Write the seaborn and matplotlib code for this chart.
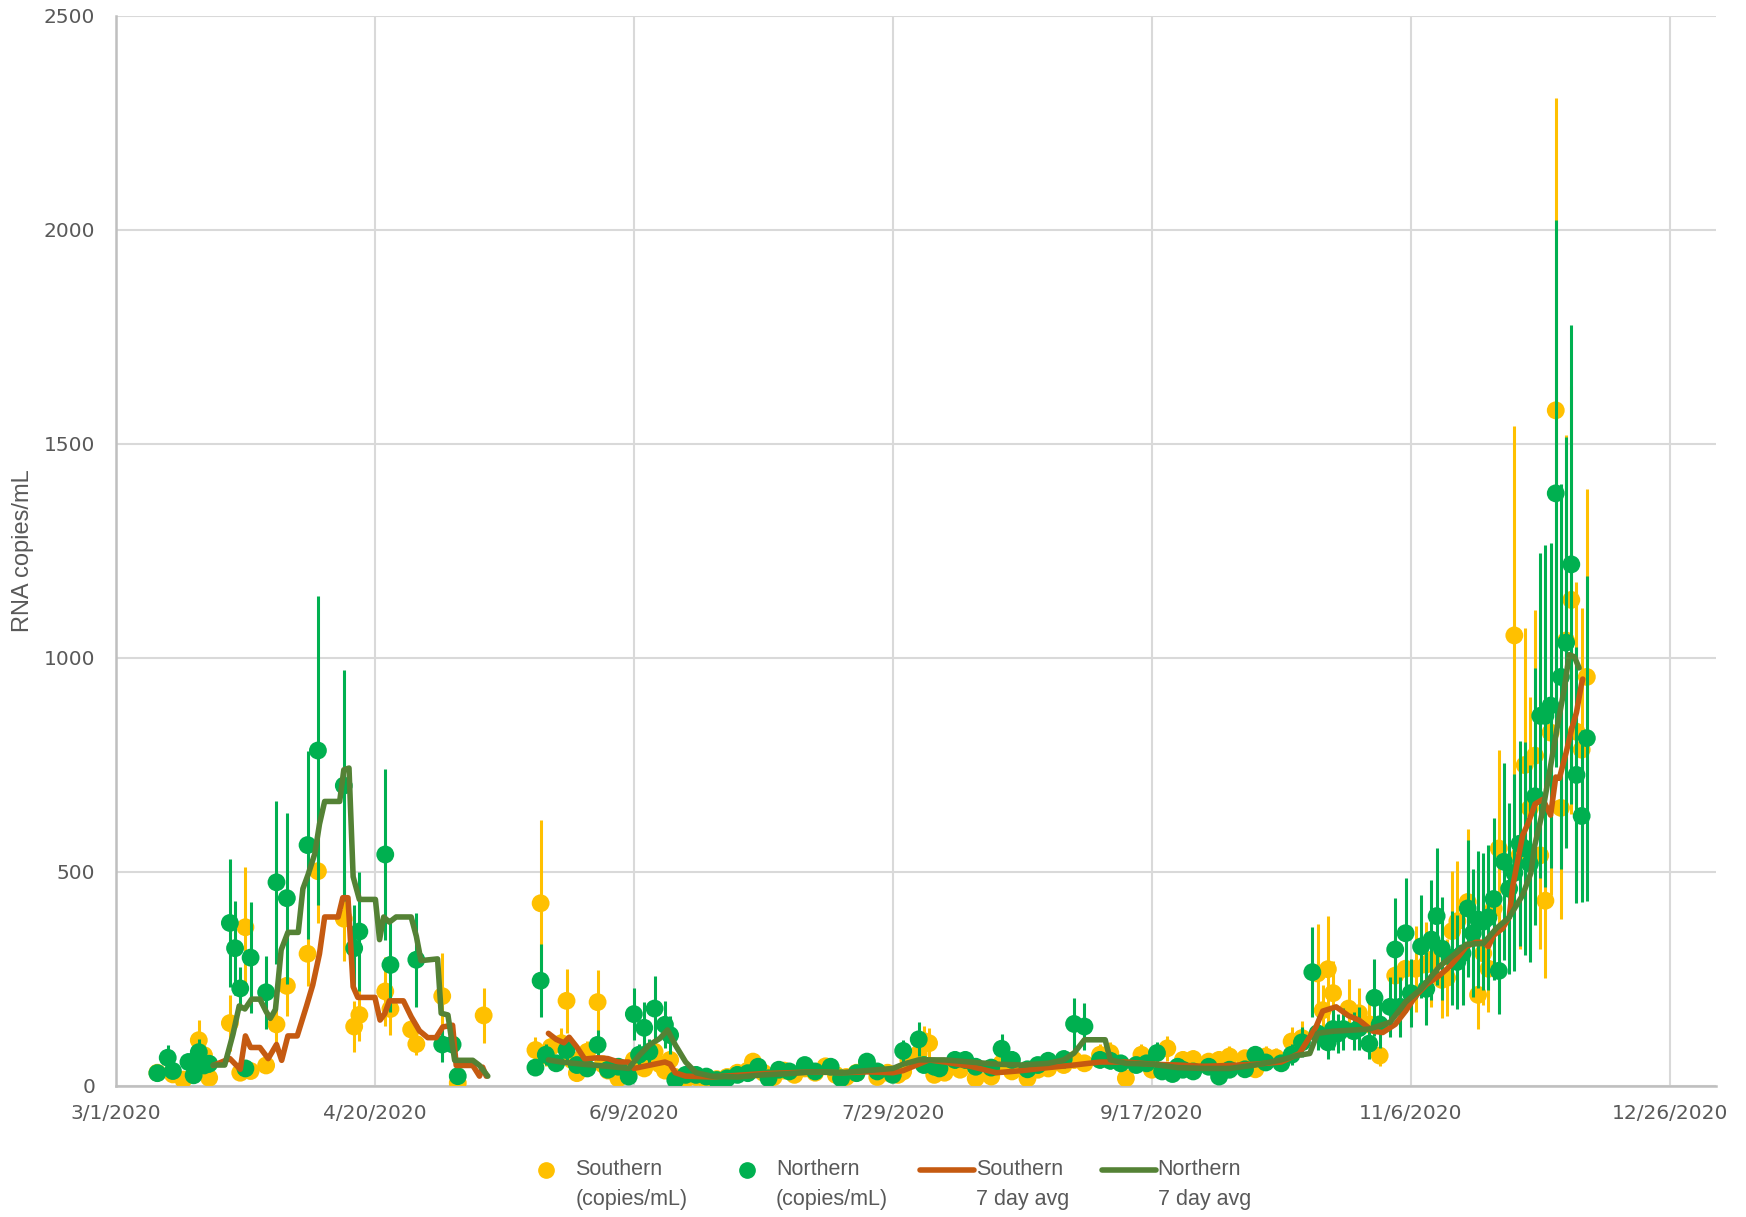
import numpy as np
import pandas as pd
import matplotlib
matplotlib.use('Agg')
import matplotlib.pyplot as plt
from matplotlib.lines import Line2D
from matplotlib.legend_handler import HandlerLine2D
from matplotlib.ticker import FuncFormatter, MultipleLocator
from matplotlib import font_manager
import matplotlib.dates as mdates
import seaborn as sns

sns.set_theme()
sns.set_style('white')
plt.rcParams['font.family'] = ['DejaVu Sans']

start = pd.Timestamp('2020-03-01')

# Southern samples: day offset from 3/1/2020, copies/mL, error bar half-width
s_days = [8, 11, 13, 16, 17, 18, 22, 24, 25, 26, 29, 31, 33, 37, 39, 44, 46, 47, 52, 53, 57, 58, 63, 66, 71,
          81, 82, 83, 84, 86, 87, 88, 89, 90, 91, 93, 94, 95, 97, 99, 100, 101, 102, 103, 104, 105, 106, 107,
          108, 110, 112, 114, 116, 118, 120, 122, 123, 125, 127, 129, 131, 133, 135, 137, 139, 141, 143, 145,
          147, 149, 151, 152, 153, 155, 156, 157, 158, 160,
          163, 166, 169, 171, 173, 176, 178, 180, 183, 185, 187, 190, 192, 195, 198, 200, 203, 206, 208, 211,
          213, 215, 218, 220, 222, 224, 227, 229, 232, 233, 234, 235, 238, 240, 242, 244, 247, 249, 251, 253,
          254, 256, 257, 258, 259, 261, 263, 264, 265, 266, 267, 270, 271, 272, 273, 274, 275, 276, 277, 278,
          279, 280, 281, 282, 283, 284]
s_vals = [30, 26, 14, 106, 71, 18, 146, 30, 370, 34, 47, 143, 233, 308, 501, 390, 138, 165, 220, 179, 131, 97, 209, 6, 164,
          83, 426, 70, 90, 99, 198, 60, 29, 65, 79, 195, 50, 35, 17, 30, 60, 56, 40, 70, 79, 50, 35, 60,
          20, 15, 20, 10, 15, 20, 30, 35, 56, 30, 20, 35, 25, 40, 30, 45, 25, 20, 30, 50,
          20, 30, 25, 33, 60, 75, 104, 99, 25, 30,
          37, 17, 21, 52, 33, 17, 37, 40, 48, 60, 52, 72, 76, 17, 72, 37, 87, 60, 62, 56,
          60, 68, 64, 38, 68, 65, 103, 111, 262, 176, 272, 216, 180, 169, 143, 70, 257, 273, 273, 283,
          294, 247, 252, 361, 384, 429, 212, 309, 273, 414, 554, 1052, 538, 749, 648, 771, 538, 432, 825, 1578,
          649, 1040, 1135, 827, 785, 955]
s_err = [12, 10, 8, 48, 25, 8, 65, 12, 140, 12, 15, 50, 70, 75, 120, 100, 60, 60, 80, 60, 30, 25, 100, 5, 65,
         30, 195, 25, 30, 35, 75, 20, 10, 25, 25, 75, 18, 12, 8, 10, 20, 20, 15, 25, 25, 18, 12, 20,
         8, 6, 8, 5, 6, 8, 10, 12, 18, 10, 8, 12, 10, 15, 10, 15, 10, 8, 10, 18,
         8, 10, 10, 12, 20, 25, 35, 35, 10, 10,
         12, 8, 8, 18, 12, 8, 12, 15, 15, 20, 18, 25, 25, 8, 25, 12, 30, 20, 20, 20,
         20, 25, 20, 12, 25, 22, 35, 40, 115, 60, 125, 75, 70, 60, 50, 25, 90, 100, 100, 100,
         110, 90, 90, 140, 140, 170, 80, 120, 100, 160, 230, 490, 220, 320, 260, 340, 220, 180, 380, 730,
         260, 480, 500, 350, 330, 440]

# Northern samples
n_days = [8, 10, 11, 14, 15, 16, 17, 18, 22, 23, 24, 25, 26, 29, 31, 33, 37, 39, 44, 46, 47, 52, 53, 58, 63, 65, 66,
          81, 82, 83, 85, 87, 89, 91, 93, 95, 97, 99, 100, 101, 102, 103, 104, 106, 107,
          108, 110, 112, 114, 116, 118, 120, 122, 124, 126, 128, 130, 133, 135, 138, 140, 143, 145, 147, 150,
          152, 155, 156, 158, 159, 162, 164, 166, 169, 171, 173, 176, 178, 180, 183, 185, 187, 190, 192, 194,
          197, 199, 201, 202, 204, 205, 206, 208, 211, 213, 215, 218,
          220, 222, 225, 227, 229, 231, 232, 234, 235, 236, 237, 239, 240, 242, 243, 244, 246, 247, 248, 249,
          250, 252, 253, 254, 255, 256, 258, 259, 260, 261, 262, 263, 264, 265, 266, 267, 268, 269, 270, 271,
          272, 273, 274, 275, 276, 277, 278, 279, 280, 281, 282, 283, 284]
n_vals = [29, 65, 34, 55, 24, 78, 47, 51, 380, 321, 227, 40, 299, 218, 475, 438, 562, 783, 701, 321, 360, 540, 282, 294, 96, 96, 22,
          42, 245, 72, 52, 83, 48, 40, 95, 37, 44, 21, 167, 72, 135, 79, 180, 142, 118,
          13, 25, 25, 21, 13, 17, 25, 29, 44, 17, 37, 33, 48, 33, 44, 17, 29, 56, 33, 25,
          81, 108, 48, 44, 40, 60, 60, 44, 42, 86, 60, 38, 48, 58, 62, 144, 138, 60, 58, 52,
          48, 52, 76, 33, 27, 44, 37, 33, 44, 21, 37, 38,
          72, 54, 52, 72, 101, 265, 122, 101, 132, 122, 132, 127, 134, 98, 205, 143, 184, 318, 184, 356,
          216, 325, 226, 341, 396, 320, 299, 289, 309, 414, 356, 388, 383, 393, 436, 268, 523, 460, 497, 565,
          554, 518, 676, 864, 864, 888, 1384, 955, 1035, 1218, 726, 630, 812]
n_err = [10, 30, 12, 20, 10, 30, 15, 20, 150, 110, 50, 15, 130, 85, 190, 200, 220, 360, 270, 100, 140, 200, 110, 110, 40, 35, 10,
         12, 85, 25, 15, 25, 15, 12, 35, 12, 15, 8, 60, 25, 60, 30, 75, 55, 45,
         5, 8, 8, 8, 5, 6, 8, 10, 15, 6, 12, 10, 15, 10, 15, 6, 10, 20, 10, 8,
         25, 40, 15, 15, 12, 20, 20, 15, 15, 35, 20, 12, 15, 20, 20, 60, 55, 20, 20, 18,
         15, 18, 25, 10, 10, 15, 12, 10, 15, 8, 12, 12,
         20, 18, 18, 25, 35, 105, 40, 40, 50, 45, 50, 45, 50, 35, 90, 55, 70, 120, 70, 130,
         80, 120, 85, 140, 160, 120, 110, 110, 120, 160, 150, 160, 160, 170, 190, 100, 230, 200, 230, 240,
         250, 230, 300, 380, 400, 380, 640, 450, 480, 560, 300, 200, 380]

# 7 day averages (the sampling gap in May splits each line in two)
s_avg_days = [18.8, 22, 24, 25, 26, 27.8, 29.4, 31, 32, 33.2, 35, 36.8, 38, 39.3, 40.3, 42.9, 43.8, 44.8, 45.8,
              46.7, 50, 51, 51.9, 52.8, 55.5, 57, 58.6, 60.2, 61.8, 63.1, 65, 65.7, 68.9, 70.2, 70.8, 71.5,
              83.5, 85, 86.5, 87.5, 89, 90.5, 93, 95, 97, 99, 100, 102, 104, 106, 107, 108, 110, 115, 120,
              125, 130, 135, 140, 145, 150, 152, 155, 157, 160, 165, 170, 175, 180, 185, 190, 195, 200, 205,
              210, 215, 220, 225, 228.5, 231.7, 233, 235.6, 238, 240, 242.7, 244.6, 247, 249, 251, 253,
              255.5, 257.5, 259.4, 260.7, 262.6, 264, 265, 266, 267.7, 269, 269.7, 271.6, 272.6, 274,
              275.5, 277, 278, 278.7, 280, 281, 282, 282.9, 283.2]
s_avg_vals = [47, 63, 38, 116, 89, 89, 63, 96, 59, 116, 116, 186, 235, 308, 394, 394, 439, 439, 231,
              206, 206, 153, 168, 198, 198, 161, 128, 112, 112, 137, 141, 47, 47, 22, 43, 22,
              122, 108, 100, 113, 90, 62, 65, 63, 55, 55, 40, 45, 50, 55, 50, 30, 22, 20, 24,
              28, 30, 32, 30, 32, 30, 35, 50, 60, 55, 45, 30, 35, 42, 48, 55, 55, 50, 48,
              45, 47, 50, 55, 75, 137, 174, 184, 163, 153, 127, 124, 143, 174, 210, 236,
              257, 278, 304, 325, 335, 335, 325, 351, 367, 393, 466, 585, 611, 658,
              669, 632, 721, 718, 778, 830, 872, 934, 950]

n_avg_days = [18.8, 21, 22.6, 23.8, 24.9, 26.2, 27.8, 29, 29.8, 30.8, 31.9, 33.2, 35.2, 36.1, 37.1, 38.4, 39.3,
              40.3, 43.2, 44, 45, 45.8, 47, 50.1, 50.9, 51.7, 52.8, 54.1, 57, 58, 58.9, 62.1, 62.8, 64.1,
              65.4, 68.9, 70.2, 71.8,
              83.5, 86, 90, 95, 99, 101, 103, 105, 106.5, 108, 110, 112, 115, 120, 125, 130, 135, 140, 145,
              150, 152, 155, 160, 165, 170, 175, 180, 183, 185, 187, 191, 192, 195, 200, 205, 210, 215, 220,
              225, 228, 230.5, 232, 235, 242, 246, 249, 252, 255.5, 258.7, 260.7, 264, 266.5, 269, 271.6,
              273.2, 273.9, 275.5, 277, 278.4, 279.6, 280.6, 281.6, 282.5]
n_avg_vals = [48, 48, 120, 186, 179, 202, 202, 173, 157, 178, 317, 358, 358, 460, 493, 542, 611,
              664, 664, 738, 742, 488, 435, 435, 341, 394, 382, 394, 394, 349, 292, 296, 169, 165,
              59, 59, 47, 22,
              60, 55, 50, 45, 40, 70, 95, 110, 130, 95, 55, 30, 22, 20, 25, 28, 32, 30, 35,
              40, 50, 60, 60, 55, 50, 48, 52, 60, 76, 107, 107, 60, 52, 50, 42, 40, 40, 48,
              60, 70, 75, 122, 127, 132, 148, 195, 226, 278, 309, 330, 332, 367, 393, 445,
              497, 559, 643, 747, 846, 924, 1007, 1002, 976]

yellow = '#FFC000'
green = '#00B050'
orange = '#C55A11'
dkgreen = '#548235'
grey_text = '#595959'


def to_dates(days):
    return start + pd.to_timedelta(days, unit='D')


south = pd.DataFrame({'date': to_dates(s_days), 'val': s_vals, 'err': s_err})
north = pd.DataFrame({'date': to_dates(n_days), 'val': n_vals, 'err': n_err})
s_avg = pd.DataFrame({'date': to_dates(s_avg_days), 'val': s_avg_vals})
n_avg = pd.DataFrame({'date': to_dates(n_avg_days), 'val': n_avg_vals})
gap = start + pd.Timedelta(days=76)
s_avg['seg'] = (s_avg['date'] > gap).astype(int)
n_avg['seg'] = (n_avg['date'] > gap).astype(int)

installed = {f.name for f in font_manager.fontManager.ttflist}
narrow = 'Liberation Sans Narrow' if 'Liberation Sans Narrow' in installed else 'Liberation Sans'

fig = plt.figure(figsize=(17.46, 12.17), dpi=100)
ax = fig.add_axes([0.0664, 0.108, 0.9166, 0.879])

ax.errorbar(south['date'], south['val'], yerr=south['err'], fmt='none', ecolor=yellow, elinewidth=2.2, zorder=2)
sns.scatterplot(data=south, x='date', y='val', color=yellow, s=165, edgecolor='none', ax=ax, zorder=3)
ax.errorbar(north['date'], north['val'], yerr=north['err'], fmt='none', ecolor=green, elinewidth=2.2, zorder=4)
sns.scatterplot(data=north, x='date', y='val', color=green, s=165, edgecolor='none', ax=ax, zorder=5)
sns.lineplot(data=s_avg, x='date', y='val', units='seg', estimator=None, sort=False, color=orange,
             linewidth=4, ax=ax, zorder=6)
sns.lineplot(data=n_avg, x='date', y='val', units='seg', estimator=None, sort=False, color=dkgreen,
             linewidth=4, ax=ax, zorder=7)

ax.set_xlim(start, start + pd.Timedelta(days=309))
ax.set_ylim(0, 2500)
ax.set_xticks([start + pd.Timedelta(days=50 * k) for k in range(7)])
ax.xaxis.set_major_formatter(FuncFormatter(
    lambda v, p: (lambda d: f'{d.month}/{d.day}/{d.year}')(mdates.num2date(v))))
ax.yaxis.set_major_locator(MultipleLocator(500))
ax.grid(True, color='#D9D9D9', linewidth=1.5)
ax.set_axisbelow(True)
for side in ['top', 'right']:
    ax.spines[side].set_visible(False)
for side in ['left', 'bottom']:
    ax.spines[side].set_color('#BFBFBF')
    ax.spines[side].set_linewidth(1.8)
ax.tick_params(axis='both', length=0, labelsize=14.5, colors=grey_text)
ax.tick_params(axis='x', pad=13)
ax.tick_params(axis='y', pad=15)
ax.set_xlabel('')
ax.set_ylabel('RNA copies/mL', fontsize=17, color=grey_text, family=[narrow, 'DejaVu Sans'])
ax.yaxis.set_label_coords(-0.051, 0.5)


class FirstLineHandler(HandlerLine2D):
    # put the legend key level with the first line of a two-line label
    def create_artists(self, legend, orig_handle, xdescent, ydescent, width, height, fontsize, trans):
        artists = super().create_artists(legend, orig_handle, xdescent, ydescent, width, height,
                                         fontsize, trans)
        for a in artists:
            a.set_ydata(np.asarray(a.get_ydata(), dtype=float) + fontsize * 0.7)
        return artists


handles = [
    Line2D([], [], marker='o', linestyle='none', color=yellow, markersize=11),
    Line2D([], [], marker='o', linestyle='none', color=green, markersize=11),
    Line2D([], [], color=orange, linewidth=4),
    Line2D([], [], color=dkgreen, linewidth=4),
]
labels = ['Southern\n(copies/mL)', 'Northern\n(copies/mL)', 'Southern\n7 day avg', 'Northern\n7 day avg']
leg = fig.legend(handles, labels, loc='center', bbox_to_anchor=(0.507, 0.027), ncol=4, frameon=False,
                 prop={'family': ['Liberation Sans', 'DejaVu Sans'], 'size': 15.5}, handlelength=2.5,
                 columnspacing=1.5, handletextpad=0.1,
                 handler_map={Line2D: FirstLineHandler()})
for t in leg.get_texts():
    t.set_color(grey_text)
    t.set_linespacing(1.55)

fig.savefig('out.png', dpi=100)
